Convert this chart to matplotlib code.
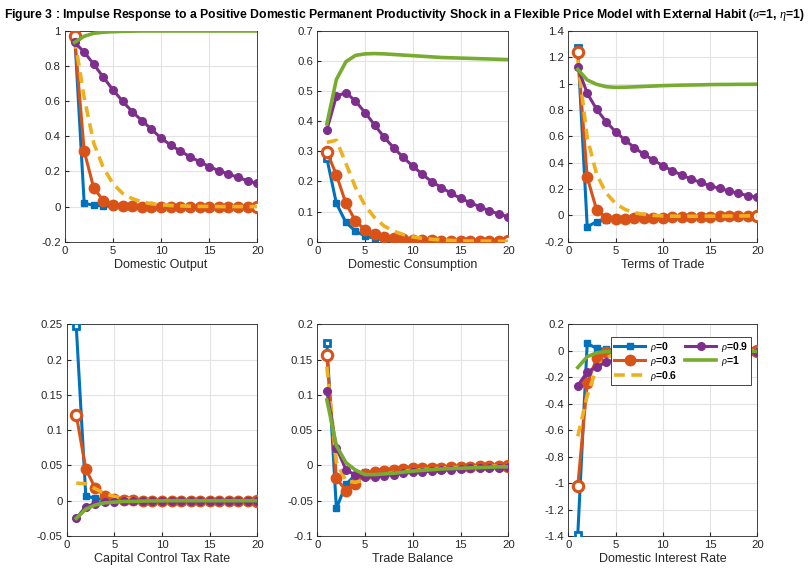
import numpy as np
import matplotlib.pyplot as plt
from matplotlib.ticker import FuncFormatter

plt.rcParams['font.family'] = ['Liberation Sans', 'DejaVu Sans']
plt.rcParams['axes.unicode_minus'] = False
plt.rcParams['mathtext.fontset'] = 'custom'
plt.rcParams['mathtext.it'] = 'Liberation Serif:italic'

periods = list(range(1, 21))
rho_labels = ['$\\rho$=0', '$\\rho$=0.3', '$\\rho$=0.6', '$\\rho$=0.9', '$\\rho$=1']

# domestic output
output_r0 = [0.99, 0.018, 0.008, 0.004, 0.002, 0.001, 0, 0, 0, 0, 0, 0, 0, 0, 0, 0, 0, 0, 0, 0]
output_r3 = [0.97, 0.316, 0.104, 0.034, 0.011, 0.004, 0.001, 0, 0, 0, 0, 0, 0, 0, 0, 0, 0, 0, 0, 0]
output_r6 = [0.96, 0.62, 0.36, 0.22, 0.13, 0.075, 0.045, 0.027, 0.016, 0.010, 0.006, 0.004, 0.002, 0.001, 0.001, 0, 0, 0, 0, 0]
output_r9 = [0.935, 0.88, 0.81, 0.736, 0.664, 0.60, 0.54, 0.49, 0.44, 0.39, 0.35, 0.316, 0.284, 0.256, 0.227, 0.205, 0.185, 0.166, 0.147, 0.132]
output_r1 = [0.935, 0.97, 0.987, 0.993, 0.996, 0.998, 0.999, 1.0, 1.0, 1.0, 1.0, 1.0, 1.0, 1.0, 1.0, 1.0, 1.0, 1.0, 1.0, 1.0]

# domestic consumption
cons_r0 = [0.277, 0.127, 0.064, 0.035, 0.019, 0.011, 0.006, 0.004, 0.002, 0.001, 0.001, 0, 0, 0, 0, 0, 0, 0, 0, 0]
cons_r3 = [0.299, 0.222, 0.127, 0.069, 0.039, 0.024, 0.016, 0.011, 0.008, 0.006, 0.005, 0.004, 0.003, 0.002, 0.002, 0.001, 0.001, 0.001, 0.001, 0.001]
cons_r6 = [0.33, 0.337, 0.26, 0.18, 0.12, 0.08, 0.052, 0.035, 0.024, 0.016, 0.011, 0.008, 0.006, 0.004, 0.003, 0.002, 0.002, 0.002, 0.001, 0.001]
cons_r9 = [0.371, 0.484, 0.495, 0.467, 0.429, 0.388, 0.347, 0.312, 0.28, 0.251, 0.224, 0.199, 0.18, 0.161, 0.144, 0.130, 0.116, 0.103, 0.092, 0.083]
cons_r1 = [0.391, 0.539, 0.598, 0.619, 0.624, 0.625, 0.624, 0.622, 0.620, 0.618, 0.616, 0.614, 0.612, 0.611, 0.610, 0.609, 0.608, 0.607, 0.606, 0.605]

# terms of trade
tot_r0 = [1.268, -0.086, -0.048, -0.035, -0.028, -0.024, -0.02, -0.017, -0.015, -0.013, -0.011, -0.01, -0.008, -0.007, -0.006, -0.005, -0.005, -0.004, -0.003, -0.003]
tot_r3 = [1.238, 0.288, 0.04, -0.018, -0.026, -0.025, -0.023, -0.021, -0.019, -0.017, -0.015, -0.013, -0.012, -0.01, -0.009, -0.008, -0.007, -0.006, -0.005, -0.005]
tot_r6 = [1.18, 0.59, 0.31, 0.17, 0.09, 0.045, 0.02, 0.008, 0.0, -0.004, -0.006, -0.007, -0.007, -0.007, -0.006, -0.006, -0.005, -0.005, -0.004, -0.004]
tot_r9 = [1.124, 0.927, 0.805, 0.711, 0.635, 0.572, 0.514, 0.463, 0.42, 0.377, 0.339, 0.306, 0.276, 0.25, 0.225, 0.205, 0.185, 0.167, 0.149, 0.137]
tot_r1 = [1.109, 1.028, 0.995, 0.977, 0.972, 0.973, 0.976, 0.979, 0.982, 0.985, 0.987, 0.989, 0.99, 0.991, 0.993, 0.994, 0.994, 0.995, 0.995, 0.996]

# capital control tax rate
tax_r0 = [0.247, 0.0067, 0.0034, 0.001, 0.0005, 0, 0, 0, 0, 0, 0, 0, 0, 0, 0, 0, 0, 0, 0, 0]
tax_r3 = [0.1215, 0.045, 0.0175, 0.0067, 0.0025, 0.001, 0.0005, 0, 0, 0, 0, 0, 0, 0, 0, 0, 0, 0, 0, 0]
tax_r6 = [0.025, 0.024, 0.017, 0.010, 0.006, 0.003, 0.002, 0.001, 0.0005, 0, 0, 0, 0, 0, 0, 0, 0, 0, 0, 0]
tax_r9 = [-0.025, -0.0085, -0.004, -0.002, -0.0015, -0.001, -0.001, -0.0008, -0.0006, -0.0005, -0.0004, -0.0003, -0.0002, -0.0002, -0.0001, 0, 0, 0, 0, 0]
tax_r1 = [-0.025, -0.012, -0.006, -0.003, -0.002, -0.001, -0.001, -0.0005, -0.0003, -0.0002, 0, 0, 0, 0, 0, 0, 0, 0, 0, 0]

# trade balance
tb_r0 = [0.173, -0.061, -0.027, -0.013, -0.010, -0.008, -0.006, -0.005, -0.004, -0.003, -0.003, -0.002, -0.002, -0.002, -0.001, -0.001, -0.001, -0.001, -0.001, -0.001]
tb_r3 = [0.156, -0.018, -0.036, -0.026, -0.012, -0.009, -0.008, -0.006, -0.005, -0.004, -0.004, -0.003, -0.003, -0.002, -0.002, -0.002, -0.001, -0.001, -0.001, -0.001]
tb_r6 = [0.14, 0.005, -0.022, -0.024, -0.02, -0.016, -0.013, -0.010, -0.008, -0.007, -0.006, -0.005, -0.004, -0.003, -0.003, -0.002, -0.002, -0.001, -0.001, -0.001]
tb_r9 = [0.106, 0.025, -0.006, -0.014, -0.017, -0.016, -0.015, -0.013, -0.011, -0.01, -0.009, -0.008, -0.007, -0.006, -0.005, -0.004, -0.004, -0.003, -0.003, -0.002]
tb_r1 = [0.093, 0.028, 0.004, -0.0066, -0.013, -0.013, -0.012, -0.011, -0.0095, -0.008, -0.007, -0.006, -0.005, -0.0045, -0.004, -0.0035, -0.003, -0.0025, -0.002, -0.002]

# domestic interest rate
rate_r0 = [-1.392, 0.056, 0.018, 0.011, 0.007, 0.005, 0.003, 0.002, 0.002, 0.001, 0.001, 0.001, 0, 0, 0, 0, 0, 0, 0, 0]
rate_r3 = [-1.023, -0.247, -0.058, -0.006, 0.004, 0.004, 0.003, 0.002, 0.002, 0.001, 0.001, 0.001, 0, 0, 0, 0, 0, 0, 0, 0]
rate_r6 = [-0.647, -0.34, -0.13, -0.055, -0.02, -0.005, 0.0, 0.002, 0.002, 0.002, 0.001, 0.001, 0.001, 0, 0, 0, 0, 0, 0, 0]
rate_r9 = [-0.264, -0.16, -0.12, -0.087, -0.065, -0.05, -0.04, -0.034, -0.029, -0.025, -0.022, -0.019, -0.017, -0.015, -0.013, -0.012, -0.011, -0.01, -0.009, -0.008]
rate_r1 = [-0.126, -0.045, -0.015, -0.006, -0.003, -0.002, -0.001, -0.001, -0.001, -0.001, -0.001, -0.002, -0.002, -0.002, -0.003, -0.003, -0.003, -0.004, -0.004, -0.004]

panel_titles = ['Domestic Output', 'Domestic Consumption', 'Terms of Trade',
                'Capital Control Tax Rate', 'Trade Balance', 'Domestic Interest Rate']
panel_ylims = [(-0.2, 1), (0, 0.7), (-0.2, 1.4), (-0.05, 0.25), (-0.1, 0.2), (-1.4, 0.2)]
panel_ysteps = [0.2, 0.1, 0.2, 0.05, 0.05, 0.2]

panels = [
    [output_r0, output_r3, output_r6, output_r9, output_r1],
    [cons_r0, cons_r3, cons_r6, cons_r9, cons_r1],
    [tot_r0, tot_r3, tot_r6, tot_r9, tot_r1],
    [tax_r0, tax_r3, tax_r6, tax_r9, tax_r1],
    [tb_r0, tb_r3, tb_r6, tb_r9, tb_r1],
    [rate_r0, rate_r3, rate_r6, rate_r9, rate_r1],
]

# matlab default colours
blue = '#0072BD'
orange = '#D95319'
yellow = '#EDB120'
purple = '#7E2F8E'
green = '#77AC30'

# axes boxes in figure fraction (left, bottom, width, height)
boxes = [
    (0.0803, 0.5782, 0.2377, 0.3677),
    (0.3922, 0.5782, 0.2361, 0.3677),
    (0.7025, 0.5782, 0.2336, 0.3677),
    (0.0825, 0.0646, 0.2355, 0.3694),
    (0.3922, 0.0646, 0.2361, 0.3694),
    (0.7025, 0.0646, 0.2336, 0.3694),
]

fig = plt.figure(figsize=(8.09, 5.73), dpi=100)
fig.suptitle('Figure 3 : Impulse Response to a Positive Domestic Permanent Productivity Shock '
             'in a Flexible Price Model with External Habit ($\\sigma$=1, $\\eta$=1)',
             fontsize=8.8, fontweight='bold', y=0.987, x=0.5)


def tick_fmt(v, p):
    v = round(v, 4) + 0.0
    if v == 0:
        return '0'
    return '%g' % v


fmt = FuncFormatter(tick_fmt)
lw = 2.2

for i in range(6):
    ax = fig.add_axes(boxes[i])
    s0, s3, s6, s9, s1 = panels[i]
    # white faced end markers like the matlab export
    ax.plot(periods, s0, color=blue, lw=lw, marker='s', ms=5, mfc=blue, mec=blue, label=rho_labels[0], zorder=3)
    ax.plot([periods[0], periods[-1]], [s0[0], s0[-1]], ls='none', marker='s', ms=5, mfc='white', mec=blue, mew=2, zorder=3)
    ax.plot(periods, s3, color=orange, lw=lw, marker='o', ms=7.5, mfc=orange, mec=orange, label=rho_labels[1], zorder=4)
    ax.plot([periods[0], periods[-1]], [s3[0], s3[-1]], ls='none', marker='o', ms=7.5, mfc='white', mec=orange, mew=2.2, zorder=4)
    ax.plot(periods, s6, color=yellow, lw=lw + 0.4, ls=(0, (3, 1.8)), label=rho_labels[2], zorder=5)
    ax.plot(periods, s9, color=purple, lw=lw, marker='o', ms=5.5, mfc=purple, mec=purple, label=rho_labels[3], zorder=6)
    ax.plot(periods, s1, color=green, lw=lw + 0.4, label=rho_labels[4], zorder=7)

    lo, hi = panel_ylims[i]
    ax.set_xlim(0, 20)
    ax.set_ylim(lo, hi)
    ax.set_xticks([0, 5, 10, 15, 20])
    ax.set_yticks(np.arange(lo, hi + panel_ysteps[i] / 2, panel_ysteps[i]))
    ax.yaxis.set_major_formatter(fmt)
    ax.grid(True, color='#e3e3e3', lw=0.8)
    ax.set_axisbelow(True)
    ax.tick_params(direction='in', length=3, labelsize=8.2, colors='#262626', pad=3)
    for sp in ax.spines.values():
        sp.set_color('#262626')
        sp.set_linewidth(0.6)
    ax.set_xlabel(panel_titles[i], fontsize=9, color='#262626', labelpad=2)

    if i == 5:
        leg = ax.legend(ncol=2, loc='upper left', bbox_to_anchor=(0.2, 0.965),
                        handlelength=3.0, columnspacing=0.7, handletextpad=0.5,
                        labelspacing=0.05, borderpad=0.25, fancybox=False, framealpha=1,
                        edgecolor='#262626', prop={'weight': 'bold', 'size': 7.5})
        leg.get_frame().set_linewidth(0.6)
        leg.set_zorder(20)

fig.savefig('out.png', dpi=100)
